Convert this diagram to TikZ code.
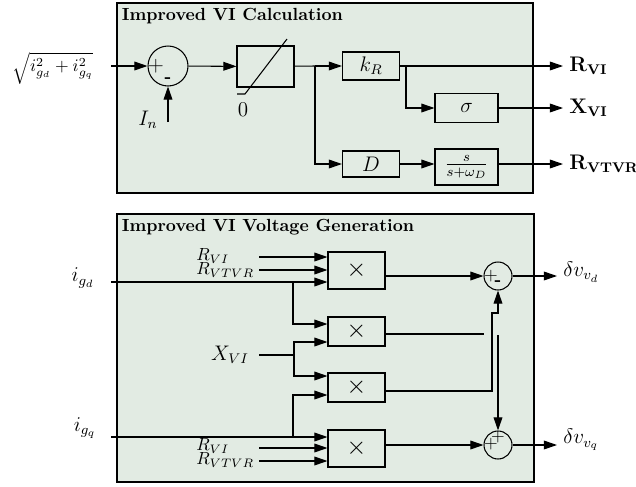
\documentclass[tikz,border=0pt]{standalone}
\usepackage{amsmath, amssymb}
\usepackage{xcolor}
\usepackage{tikz}
\usetikzlibrary{arrows.meta, positioning}
\definecolor{panelfill}{RGB}{226,235,227}

\begin{document}
\begin{tikzpicture}[x=0.02cm, y=-0.02cm, line width=0.6pt,
  >={Triangle[length=7.5pt,width=5pt]},
  blk/.style={draw, minimum width=1.14cm, minimum height=0.56cm, inner sep=1pt},
  sumnode/.style={draw, circle, inner sep=0pt},
  panel/.style={draw, fill=panelfill, line width=0.8pt},
  paneltitle/.style={anchor=north west, font=\bfseries, inner sep=2.5pt}]
\useasboundingbox (0,0) rectangle (636,487);

% upper panel
\draw[panel] (117,3) rectangle (533,193);
\node[paneltitle] (calctitle) at (117,3) {Improved VI Calculation};

\node (irms) at (53,68) {$\sqrt{i_{g_d}^2+i_{g_q}^2}$};
\coordinate (irmsin) at (111,66);
\node[sumnode, minimum size=0.8cm] (sumI) at (168,66) {};
\node[inner sep=0pt, font=\large] (sumIp) at (156,66) {$+$};
\node[inner sep=0pt] (sumIm) at (168,80) {\bfseries -};
\node[font=\large] (In) at (148,120) {$I_n$};
\coordinate (Inin) at (168,122);
\draw[->] (irmsin) -- (sumI);
\draw[->] (Inin) -- (sumI.south);

\node[blk, minimum height=0.82cm] (sat) at (265.5,66.5) {};
\draw (237,94) -- (245,94) -- (287,39);
\node[font=\large] (satzero) at (243,110) {$0$};
\draw[->] (sumI) -- (sat);

\node[blk, font=\large] (kR) at (371,66) {$k_R$};
\node[blk, minimum height=0.52cm, font=\large] (gainD) at (371,164) {$D$};
\node[blk, minimum width=1.26cm, minimum height=0.58cm, font=\large] (sigma) at (466.5,108) {$\sigma$};
\node[blk, minimum width=1.26cm, minimum height=0.72cm, font=\large] (wash) at (466.5,167) {$\frac{s}{s+\omega_D}$};
\coordinate (jsat) at (315,66);
\coordinate (jkR) at (406,66);
\draw (sat) -- (jsat);
\draw[->] (jsat) -- (kR);
\draw[->] (jsat) |- (gainD);
\draw[->] (jkR) |- (sigma);
\draw[->] (gainD) -- (gainD -| wash.west);

\node[anchor=west, font=\large] (RVI) at (563,66) {$\mathbf{R_{VI}}$};
\node[anchor=west, font=\large] (XVI) at (563,108) {$\mathbf{X_{VI}}$};
\node[anchor=west, font=\large] (RVTVR) at (563,164) {$\mathbf{R_{VTVR}}$};
\draw[->] (kR) -- (kR -| RVI.west);
\draw[->] (sigma) -- (sigma -| XVI.west);
\draw[->] (gainD -| wash.east) -- (gainD -| RVTVR.west);

% lower panel
\draw[panel] (117,214) rectangle (534,482);
\node[paneltitle] (gentitle) at (117,214) {Improved VI Voltage Generation};

\node[blk, minimum height=0.74cm, font=\Large] (mulA) at (356.5,270.5) {$\times$};
\node[blk, minimum height=0.58cm, font=\Large] (mulB) at (356.5,331.5) {$\times$};
\node[blk, minimum height=0.58cm, font=\Large] (mulC) at (356.5,387.5) {$\times$};
\node[blk, minimum height=0.74cm, font=\Large] (mulD) at (356.5,448.5) {$\times$};

\node[sumnode, minimum size=0.56cm] (sumD) at (498,276) {};
\node[sumnode, minimum size=0.56cm] (sumQ) at (498,445) {};
\node[inner sep=0pt] (sumDp) at (491,276) {$+$};
\node[inner sep=0pt] (sumDm) at (498,283) {\bfseries -};
\node[inner sep=0pt] (sumQp) at (491,444) {$+$};
\node[inner sep=0pt] (sumQt) at (498,437) {$+$};

% inputs
\node[font=\large] (igd) at (83,278) {$i_{g_d}$};
\node[font=\large] (igq) at (85,428) {$i_{g_q}$};
\node[anchor=west] (RVIa) at (190,256) {$R_{VI}$};
\node[anchor=west] (RVTVRa) at (190,270) {$R_{VTVR}$};
\node[anchor=west] (RVIb) at (190,446) {$R_{VI}$};
\node[anchor=west] (RVTVRb) at (190,460) {$R_{VTVR}$};
\node[font=\large] (XVIa) at (230,355) {$X_{VI}$};
\coordinate (igdin) at (111,282);
\coordinate (igqin) at (111,437);
\coordinate (jd) at (293,282);
\coordinate (jq) at (293,437);
\coordinate (xin) at (259,355);
\coordinate (jx) at (294,355);

\draw[->] (259,257) -- (mulA.west |- 0,257);
\draw[->] (259,270) -- (mulA.west |- 0,270);
\draw[->] (igdin) -- (mulA.west |- igdin);
\draw[->] (jd) |- (mulB.west |- 0,324);
\draw (xin) -- (jx);
\draw[->] (jx) |- (mulB.west |- 0,342);
\draw[->] (jx) |- (mulC.west |- 0,376);
\draw[->] (jq) |- (mulC.west |- 0,395);
\draw[->] (igqin) -- (mulD.west |- igqin);
\draw[->] (259,448) -- (mulD.west |- 0,448);
\draw[->] (259,461) -- (mulD.west |- 0,461);

% outputs
\coordinate (mulBend) at (484,334);
\coordinate (crossQ) at (498,335);
\draw[->] (mulA.east |- sumD) -- (sumD);
\draw (mulB.east |- mulBend) -- (mulBend);
\draw[->] (mulC.east |- 0,391) -| (492,313) -| (sumD.south);
\draw[->] (crossQ) -- (sumQ.north);
\draw[->] (mulD.east |- sumQ) -- (sumQ);

\node[anchor=west, font=\large] (dvd) at (557,272) {$\delta v_{v_d}$};
\node[anchor=west, font=\large] (dvq) at (557,440) {$\delta v_{v_q}$};
\draw[->] (sumD) -- (sumD -| dvd.west);
\draw[->] (sumQ) -- (sumQ -| dvq.west);
\end{tikzpicture}
\end{document}
